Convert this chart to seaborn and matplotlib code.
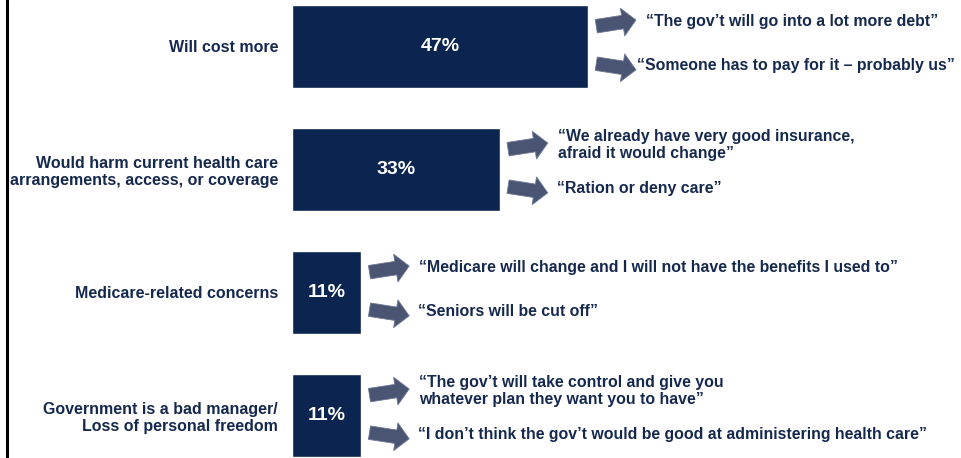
import matplotlib
matplotlib.use('Agg')
import matplotlib.pyplot as plt
import seaborn as sns
import pandas as pd

# concerns and share of respondents
categories = ['Will cost more',
              'Would harm current health care\narrangements, access, or coverage',
              'Medicare-related concerns',
              'Government is a bad manager/\nLoss of personal freedom']
pct = [47, 33, 11, 11]

# verbatim quotes next to each bar
quotes_top = ['\u201cThe gov\u2019t will go into a lot more debt\u201d',
              '\u201cWe already have very good insurance,\nafraid it would change\u201d',
              '\u201cMedicare will change and I will not have the benefits I used to\u201d',
              '\u201cThe gov\u2019t will take control and give you\nwhatever plan they want you to have\u201d']
quotes_bottom = ['\u201cSomeone has to pay for it \u2013 probably us\u201d',
                 '\u201cRation or deny care\u201d',
                 '\u201cSeniors will be cut off\u201d',
                 '\u201cI don\u2019t think the gov\u2019t would be good at administering health care\u201d']

df = pd.DataFrame({'Concern': categories, 'Pct': pct})

navy = '#0b2550'
text_col = '#15284e'
arrow_col = '#4a5473'

sns.set_style('white')
plt.rcParams['font.family'] = ['Liberation Sans', 'DejaVu Sans']
plt.rcParams['font.weight'] = 'bold'

fig = plt.figure(figsize=(9.61, 4.58), dpi=100)
ax = fig.add_axes([292 / 961, 0, 669 / 961, 1])

sns.barplot(data=df, x='Pct', y='Concern', orient='h', color=navy,
            saturation=1, width=0.675, ax=ax)

ax.bar_label(ax.containers[0], labels=[f'{v}%' for v in pct],
             label_type='center', color='white', fontsize=14, fontweight='bold')

ax.set_xlim(0, 106.2)
ax.set_ylim(3.346, -0.378)
ax.set_xlabel('')
ax.set_ylabel('')
ax.set_xticks([])
sns.despine(ax=ax, left=True, bottom=True)
ax.tick_params(axis='y', length=0, pad=10)
for lab in ax.get_yticklabels():
    lab.set_fontsize(11.5)
    lab.set_fontweight('bold')
    lab.set_color(text_col)

# arrows + quotes
arrow_style = 'simple,head_length=0.75,head_width=1.55,tail_width=0.75'
for i, v in enumerate(pct):
    x0 = v + 1.3
    x1 = v + 7.6
    gap_bottom = 0.1 if i == 0 else 1.4
    for dy, tilt, q, gap in [(-0.19, -0.025, quotes_top[i], 1.6),
                             (0.165, 0.025, quotes_bottom[i], gap_bottom)]:
        ax.annotate('', xy=(x1, i + dy + tilt), xytext=(x0, i + dy - tilt),
                    arrowprops=dict(arrowstyle=arrow_style, mutation_scale=13,
                                    facecolor=arrow_col, edgecolor='#6f7893',
                                    lw=0.6, shrinkA=0, shrinkB=0))
        ax.text(x1 + gap, i + dy - 0.01, q, ha='left', va='center',
                fontsize=11.4, fontweight='bold', color=text_col, linespacing=1.15)

# black rule on the left edge
fig.add_artist(plt.Line2D([0.0068, 0.0068], [0, 1], transform=fig.transFigure,
                          color='black', lw=2.2))

plt.savefig('out.png', dpi=100)
